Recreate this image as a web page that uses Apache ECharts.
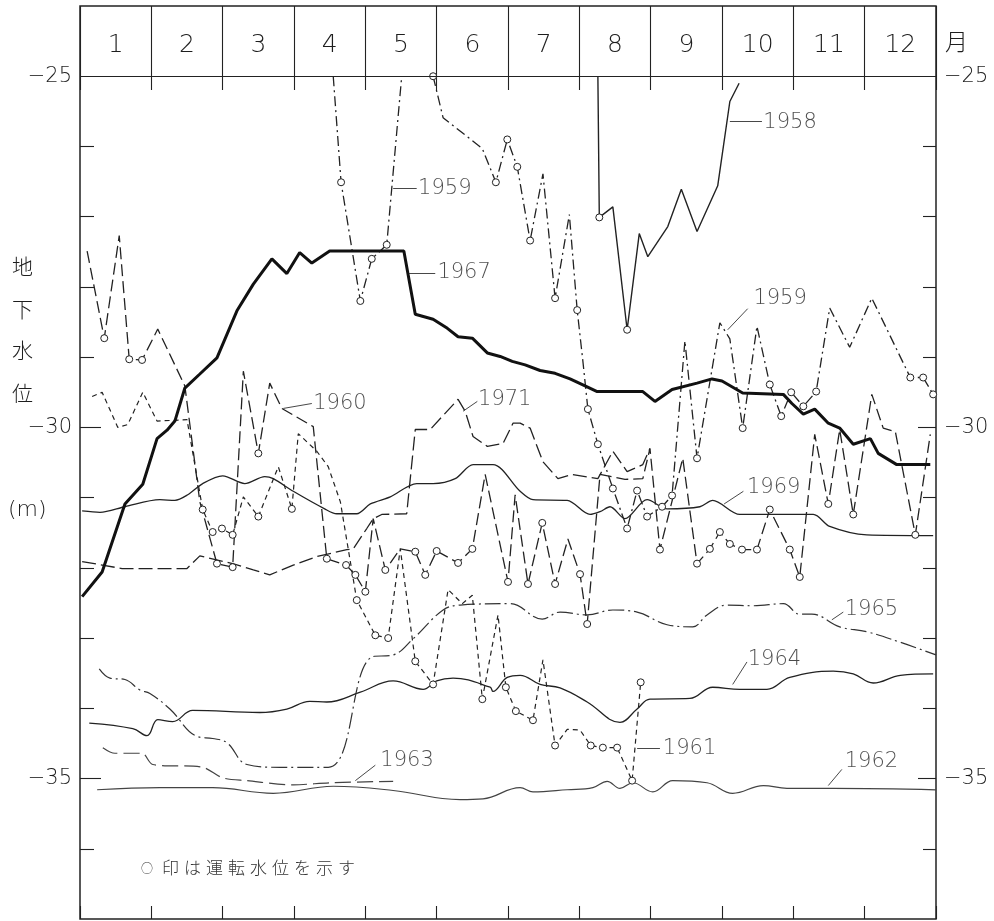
<!DOCTYPE html>
<html>
<head>
<meta charset="utf-8">
<script src="https://cdn.jsdelivr.net/npm/echarts@6/dist/echarts.min.js"></script>
<style>
html, body { margin: 0; padding: 0; background: #fff; }
#chart { width: 994px; height: 921px; }
</style>
</head>
<body>
<div id="chart"></div>
<script>
// x = month position (0 = start of January, 12 = end of December)
// y = groundwater level (m); a third element of 1 marks an operating level (○)
const months = ['1', '2', '3', '4', '5', '6', '7', '8', '9', '10', '11', '12'];
const levelTicks = [-25, -30, -35];

const level1958 = [[7.26,-25.00],[7.28,-27.01,1],[7.47,-26.86],[7.67,-28.61,1],[7.84,-27.24],[7.96,-27.57],[8.24,-27.14],[8.43,-26.61],[8.65,-27.21],[8.94,-26.56],[9.11,-25.36],[9.24,-25.10]];

const level1959a = [[3.55,-25.00],[3.66,-26.51,1],[3.93,-28.20,1],[4.09,-27.60,1],[4.30,-27.40,1],[4.51,-25.00]];
const level1959b = [[4.95,-25.00,1],[5.09,-25.59],[5.64,-26.03],[5.83,-26.51,1],[5.99,-25.90,1],[6.13,-26.29,1],[6.31,-27.34,1],[6.49,-26.39],[6.66,-28.16,1],[6.86,-26.97],[6.97,-28.33,1],[7.05,-29.06],[7.12,-29.74,1],[7.26,-30.24,1],[7.47,-30.87,1],[7.67,-31.44,1],[7.81,-30.90,1],[7.95,-31.27,1],[8.16,-31.13,1],[8.30,-30.97,1],[8.48,-28.77],[8.65,-30.44,1],[8.97,-28.51],[9.11,-28.74],[9.29,-30.01,1],[9.49,-28.56],[9.67,-29.39,1],[9.83,-29.84,1],[9.97,-29.50,1],[10.14,-29.70,1],[10.32,-29.49,1],[10.51,-28.30],[10.79,-28.86],[11.10,-28.16],[11.64,-29.29,1],[11.82,-29.29,1],[11.96,-29.53,1]];

const level1960 = [[0.10,-27.49],[0.34,-28.73,1],[0.55,-27.27],[0.69,-29.03,1],[0.87,-29.04,1],[1.09,-28.60],[1.47,-29.41],[1.68,-31.06],[1.92,-31.94,1],[2.14,-31.99,1],[2.29,-29.20],[2.50,-30.37,1],[2.66,-29.37],[2.83,-29.73],[3.27,-29.99],[3.46,-31.87,1],[3.73,-31.96,1],[3.86,-32.10,1],[4.00,-32.34,1],[4.11,-31.30],[4.28,-32.03,1],[4.49,-31.73],[4.70,-31.77,1],[4.84,-32.10,1],[5.00,-31.76,1],[5.30,-31.93,1],[5.50,-31.73,1],[5.68,-30.67],[6.00,-32.20,1],[6.10,-30.96],[6.28,-32.23,1],[6.48,-31.36,1],[6.66,-32.23,1],[6.84,-31.59],[7.01,-32.09,1],[7.11,-32.80,1],[7.29,-30.67],[7.64,-30.74],[7.89,-30.73],[7.99,-30.30],[8.13,-31.74,1],[8.45,-30.44],[8.65,-31.94,1],[8.83,-31.73,1],[8.97,-31.49,1],[9.11,-31.66,1],[9.28,-31.74,1],[9.49,-31.74,1],[9.67,-31.17,1],[9.95,-31.74,1],[10.09,-32.13,1],[10.30,-30.10],[10.49,-31.09,1],[10.65,-30.03],[10.84,-31.24,1],[11.10,-29.53],[11.26,-30.01],[11.43,-30.06],[11.71,-31.53,1],[11.92,-30.10]];

const level1961 = [[0.17,-29.56],[0.31,-29.50],[0.53,-30.00],[0.67,-29.96],[0.88,-29.50],[1.08,-29.91],[1.50,-29.89],[1.72,-31.17,1],[1.86,-31.49,1],[1.99,-31.44,1],[2.14,-31.53,1],[2.29,-30.99],[2.50,-31.27,1],[2.78,-30.56],[2.97,-31.16,1],[3.06,-30.09],[3.32,-30.34],[3.48,-30.56],[3.65,-31.06],[3.88,-32.46,1],[4.14,-32.96,1],[4.32,-33.00,1],[4.49,-31.73],[4.70,-33.33,1],[4.95,-33.66,1],[5.16,-32.31],[5.36,-32.51],[5.50,-32.39],[5.64,-33.87,1],[5.86,-32.67],[5.97,-33.70,1],[6.11,-34.04,1],[6.35,-34.17,1],[6.49,-33.31],[6.66,-34.53,1],[6.83,-34.30],[7.01,-34.31],[7.16,-34.53,1],[7.33,-34.56,1],[7.53,-34.56,1],[7.74,-35.03,1],[7.86,-33.63,1]];

const level1962 = [[0.24,-35.16],[1.12,-35.13],[1.86,-35.13],[2.71,-35.21],[3.55,-35.11],[4.39,-35.17],[5.33,-35.30],[5.65,-35.29],[6.17,-35.13],[6.35,-35.19],[6.83,-35.16],[7.19,-35.13],[7.39,-35.04],[7.57,-35.14],[7.75,-35.06],[8.03,-35.19],[8.31,-35.03],[8.79,-35.06],[9.15,-35.21],[9.58,-35.10],[9.91,-35.14],[10.56,-35.14],[12.00,-35.16]];

const level1963 = [[0.32,-34.56],[0.49,-34.64],[0.87,-34.64],[1.02,-34.80],[1.72,-34.84],[2.00,-34.99],[2.34,-35.03],[2.99,-35.09],[3.50,-35.06],[4.39,-35.04]];

const level1964 = [[0.13,-34.21],[0.74,-34.29],[0.94,-34.39],[1.09,-34.16],[1.30,-34.19],[1.58,-34.03],[2.52,-34.06],[2.90,-34.01],[3.22,-33.90],[3.46,-33.91],[3.93,-33.77],[4.39,-33.61],[4.81,-33.73],[5.00,-33.61],[5.23,-33.57],[5.75,-33.70],[5.79,-33.76],[5.99,-33.56],[6.17,-33.53],[6.45,-33.66],[6.73,-33.71],[7.11,-33.91],[7.57,-34.20],[7.81,-34.01],[7.99,-33.87],[8.55,-33.86],[8.87,-33.70],[9.25,-33.73],[9.63,-33.73],[9.95,-33.56],[10.56,-33.47],[10.84,-33.51],[11.12,-33.64],[11.50,-33.53],[11.96,-33.51]];

const level1965 = [[0.27,-33.44],[0.42,-33.57],[0.63,-33.59],[0.84,-33.74],[0.98,-33.79],[1.26,-34.01],[1.64,-34.40],[1.86,-34.43],[2.06,-34.49],[2.34,-34.80],[2.80,-34.84],[3.48,-34.84],[4.09,-33.27],[4.39,-33.24],[4.67,-33.01],[5.09,-32.60],[5.33,-32.53],[6.03,-32.51],[6.48,-32.73],[6.73,-32.63],[7.11,-32.67],[7.47,-32.60],[7.81,-32.63],[8.23,-32.81],[8.59,-32.84],[8.79,-32.67],[9.07,-32.53],[9.44,-32.54],[9.86,-32.51],[10.09,-32.66],[10.26,-32.66],[10.65,-32.84],[11.03,-32.91],[11.50,-33.06],[12.00,-33.24]];

const level1967 = [[0.03,-32.41],[0.31,-32.06],[0.63,-31.09],[0.88,-30.81],[1.08,-30.16],[1.22,-30.04],[1.33,-29.91],[1.47,-29.44],[1.68,-29.24],[1.92,-29.01],[2.20,-28.34],[2.43,-27.96],[2.69,-27.60],[2.90,-27.81],[3.08,-27.51],[3.25,-27.66],[3.50,-27.49],[4.54,-27.49],[4.70,-28.39],[4.95,-28.46],[5.15,-28.59],[5.30,-28.71],[5.50,-28.73],[5.71,-28.94],[5.89,-28.99],[6.06,-29.06],[6.24,-29.11],[6.45,-29.19],[6.66,-29.23],[6.87,-29.31],[7.08,-29.41],[7.25,-29.49],[7.89,-29.49],[8.06,-29.63],[8.30,-29.46],[8.65,-29.37],[8.86,-29.31],[9.00,-29.34],[9.29,-29.51],[9.86,-29.53],[9.98,-29.66],[10.14,-29.81],[10.30,-29.74],[10.49,-29.94],[10.65,-30.01],[10.84,-30.24],[11.08,-30.16],[11.19,-30.37],[11.45,-30.53],[11.92,-30.53]];

const level1969 = [[0.03,-31.19],[0.28,-31.21],[0.63,-31.13],[1.12,-31.03],[1.33,-31.04],[1.51,-30.96],[1.72,-30.80],[2.00,-30.69],[2.31,-30.80],[2.59,-30.70],[2.71,-30.73],[2.99,-30.91],[3.43,-31.16],[3.60,-31.23],[3.88,-31.23],[4.07,-31.09],[4.35,-30.99],[4.72,-30.80],[4.95,-30.80],[5.26,-30.73],[5.51,-30.53],[5.79,-30.53],[6.17,-30.91],[6.35,-31.03],[6.83,-31.04],[7.15,-31.24],[7.29,-31.20],[7.43,-31.13],[7.64,-31.30],[7.95,-31.03],[8.23,-31.16],[8.69,-31.13],[8.87,-31.04],[9.25,-31.24],[10.28,-31.24],[10.51,-31.41],[11.03,-31.53],[11.96,-31.54]];

const level1971 = [[0.03,-31.91],[0.59,-32.01],[1.50,-32.01],[1.68,-31.83],[2.14,-31.94],[2.43,-32.03],[2.66,-32.10],[2.99,-31.96],[3.32,-31.84],[3.74,-31.74],[3.83,-31.73],[4.02,-31.44],[4.11,-31.30],[4.23,-31.24],[4.58,-31.23],[4.70,-30.03],[4.91,-30.03],[5.30,-29.60],[5.40,-29.77],[5.51,-30.13],[5.71,-30.27],[5.93,-30.23],[6.07,-29.94],[6.17,-29.94],[6.31,-30.01],[6.49,-30.49],[6.70,-30.73],[6.90,-30.67],[7.26,-30.73],[7.47,-30.34],[7.67,-30.63],[7.89,-30.53],[7.99,-30.30]];

// year tags: where the text sits, and the leader arrow from tail to tip
const yearTags = [
  { year: '1958', text: [9.58, -25.66], tail: [9.56, -25.64], tip: [9.11, -25.64] },
  { year: '1959', text: [4.74, -26.60], tail: [4.72, -26.60], tip: [4.39, -26.60] },
  { year: '1967', text: [5.01, -27.79], tail: [4.98, -27.80], tip: [4.61, -27.80] },
  { year: '1959', text: [9.44, -28.16], tail: [9.36, -28.31], tip: [9.08, -28.61] },
  { year: '1960', text: [3.27, -29.66], tail: [3.25, -29.66], tip: [2.85, -29.73] },
  { year: '1971', text: [5.58, -29.60], tail: [5.57, -29.63], tip: [5.37, -29.77] },
  { year: '1969', text: [9.35, -30.86], tail: [9.30, -30.91], tip: [9.03, -31.09] },
  { year: '1965', text: [10.72, -32.59], tail: [10.70, -32.63], tip: [10.54, -32.74] },
  { year: '1964', text: [9.36, -33.31], tail: [9.35, -33.34], tip: [9.15, -33.66] },
  { year: '1963', text: [4.21, -34.74], tail: [4.14, -34.81], tip: [3.86, -35.03] },
  { year: '1961', text: [8.17, -34.57], tail: [8.13, -34.57], tip: [7.81, -34.57] },
  { year: '1962', text: [10.72, -34.76], tail: [10.68, -34.87], tip: [10.49, -35.10] }
];

const INK = '#222';
const SOFT = '#444';
const TEXT = '#1e1e1e';
const DIGIT_FONT = "'DejaVu Sans', 'Liberation Sans', sans-serif";
const JP_FONT = "'Noto Sans CJK JP', sans-serif";

function toData(points) {
  return points.map(p => p[2]
    ? { value: [p[0], p[1]], symbol: 'circle' }
    : [p[0], p[1]]);
}

function lineSeries(name, points, style) {
  const ink = style.color || INK;
  return {
    name: name,
    type: 'line',
    data: toData(points),
    symbol: 'none',
    symbolSize: 7,
    showSymbol: true,
    smooth: style.smooth || false,
    itemStyle: { color: '#fff', borderColor: ink, borderWidth: 1 },
    lineStyle: { color: ink, width: style.width || 1.3, type: style.dash || 'solid' },
    z: style.z || 3,
    silent: true,
    animation: false
  };
}

// open chevron used as arrow head
const arrowHead = 'path://M0,10 L5,0 L10,10 L8.8,10 L5,2.6 L1.2,10 Z';

const series = [
  lineSeries('1962', level1962, { color: SOFT, width: 1.2, smooth: 0.4 }),
  lineSeries('1963', level1963, { color: SOFT, width: 1.2, dash: [16, 6], smooth: 0.3 }),
  lineSeries('1964', level1964, { width: 1.3, smooth: 0.4 }),
  lineSeries('1965', level1965, { color: '#333', width: 1.2, dash: [16, 4, 2, 4], smooth: 0.4 }),
  lineSeries('1969', level1969, { width: 1.3, smooth: 0.3 }),
  lineSeries('1971', level1971, { width: 1.3, dash: [14, 5] }),
  lineSeries('1961', level1961, { width: 1.2, dash: [5, 4] }),
  lineSeries('1960', level1960, { width: 1.3, dash: [12, 5] }),
  lineSeries('1959', level1959a, { width: 1.3, dash: [10, 4, 2, 4] }),
  lineSeries('1959', level1959b, { width: 1.3, dash: [10, 4, 2, 4] }),
  lineSeries('1958', level1958, { width: 1.4 }),
  lineSeries('1967', level1967, { color: '#111', width: 3, z: 4 }),
  {
    // year tags and the −25 m rule under the month row
    type: 'scatter',
    symbolSize: 0,
    silent: true,
    animation: false,
    z: 5,
    data: yearTags.map(t => ({ value: t.text, name: t.year })),
    label: {
      show: true,
      position: [0, 0],
      align: 'left',
      verticalAlign: 'middle',
      formatter: p => p.name,
      fontFamily: DIGIT_FONT,
      fontWeight: 200,
      fontSize: 21,
      color: TEXT
    },
    markLine: {
      silent: true,
      animation: false,
      label: { show: false },
      symbol: ['none', 'none'],
      lineStyle: { color: INK, width: 1.2, type: 'solid' },
      data: [{ yAxis: -25 }]
    }
  },
  {
    // leader arrows from each year tag to its curve
    type: 'line',
    data: [],
    silent: true,
    animation: false,
    z: 5,
    markLine: {
      silent: true,
      animation: false,
      label: { show: false },
      symbol: ['none', arrowHead],
      symbolSize: [0, 8],
      lineStyle: { color: '#333', width: 0.9, type: 'solid' },
      data: yearTags.map(t => [{ coord: t.tail }, { coord: t.tip }])
    }
  }
];

const tickFont = { fontFamily: DIGIT_FONT, fontWeight: 200, fontSize: 21, color: TEXT };

function levelAxis(position, showLabels, tickValues, tickLen) {
  return {
    type: 'value',
    position: position,
    min: -37,
    max: -24,
    interval: 1,
    axisLine: { show: false },
    splitLine: { show: false },
    axisTick: {
      show: true,
      inside: true,
      length: tickLen,
      customValues: tickValues,
      lineStyle: { color: INK, width: 1.1 }
    },
    axisLabel: showLabels ? Object.assign({
      show: true,
      margin: 8,
      customValues: levelTicks,
      formatter: v => '\u2212' + Math.abs(v)
    }, tickFont) : { show: false }
  };
}

// footnote, set with the wide character pitch of the lettering
const noteGlyphs = ['印', 'は', '運', '転', '水', '位', 'を', '示', 'す'];
const noteGraphics = [{ type: 'text', left: 141, top: 862, style: { text: '○', font: '300 12px ' + JP_FONT, fill: '#333' } }]
  .concat(noteGlyphs.map((g, i) => ({
    type: 'text', left: 162 + i * 22, top: 859,
    style: { text: g, font: '300 17px ' + JP_FONT, fill: '#333' }
  })));

const chart = echarts.init(document.getElementById('chart'), null, { renderer: 'canvas' });

chart.setOption({
  backgroundColor: '#fff',
  animation: false,
  grid: {
    left: 80, right: 58, top: 6, bottom: 2,
    show: true,
    borderColor: INK,
    borderWidth: 1.5,
    backgroundColor: 'transparent'
  },
  xAxis: [
    {
      type: 'value', position: 'bottom', min: 0, max: 12, interval: 1,
      axisLine: { show: false }, splitLine: { show: false }, axisLabel: { show: false },
      axisTick: { show: true, inside: true, length: 13, lineStyle: { color: INK, width: 1.1 } }
    },
    {
      type: 'value', position: 'top', min: 0, max: 12, interval: 1,
      axisLine: { show: false }, splitLine: { show: false }, axisLabel: { show: false },
      axisTick: { show: true, inside: true, length: 84, lineStyle: { color: INK, width: 1.1 } }
    },
    {
      type: 'category', position: 'top', data: months, boundaryGap: true,
      axisLine: { show: false }, axisTick: { show: false }, splitLine: { show: false },
      axisLabel: Object.assign({
        show: true, inside: true, margin: 39, verticalAlign: 'middle', interval: 0
      }, tickFont, { fontSize: 25 })
    }
  ],
  yAxis: [
    levelAxis('left', true, [-36, -34, -33, -32, -31, -29, -28, -27, -26], 14),
    levelAxis('left', false, [-35, -30], 21),
    levelAxis('right', true, [-36, -34, -33, -32, -31, -29, -28, -27, -26], 13),
    levelAxis('right', false, [-35, -30], 18)
  ],
  graphic: [
    { type: 'text', left: 945, top: 30, style: { text: '月', font: '300 23px ' + JP_FONT, fill: TEXT } },
    { type: 'text', left: 12, top: 256, style: { text: '地', font: '300 21px ' + JP_FONT, fill: TEXT } },
    { type: 'text', left: 12, top: 299, style: { text: '下', font: '300 21px ' + JP_FONT, fill: TEXT } },
    { type: 'text', left: 12, top: 340, style: { text: '水', font: '300 21px ' + JP_FONT, fill: TEXT } },
    { type: 'text', left: 12, top: 383, style: { text: '位', font: '300 21px ' + JP_FONT, fill: TEXT } },
    { type: 'text', left: 8, top: 499, style: { text: '(m)', font: '200 22px ' + DIGIT_FONT, fill: TEXT } }
  ].concat(noteGraphics),
  series: series
});
</script>
</body>
</html>
